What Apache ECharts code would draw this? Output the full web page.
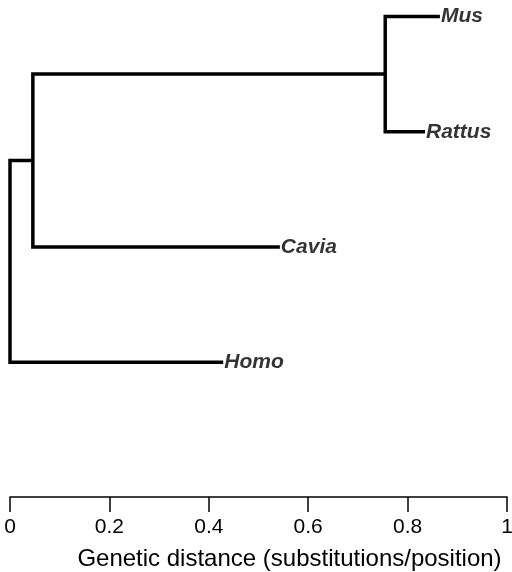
<!DOCTYPE html>
<html>
<head>
<meta charset="utf-8">
<script src="https://cdn.jsdelivr.net/npm/echarts@6/dist/echarts.min.js"></script>
<style>
  html, body { margin: 0; padding: 0; background: #fff; }
  #chart { width: 512px; height: 572px; }
</style>
</head>
<body>
<div id="chart"></div>
<script>
// tree nodes: index, parent index, distance from root
const nodeNames = ['root', 'inner', 'rodent', 'Mus', 'Rattus', 'Cavia', 'Homo']
const nodeParent = [-1, 0, 1, 2, 2, 1, 0]
const nodeDist = [0, 0.046, 0.755, 0.865, 0.835, 0.543, 0.429]
// leaves from top to bottom
const leafOrder = ['Mus', 'Rattus', 'Cavia', 'Homo']

const childrenOf = (i) => nodeParent.map((p, k) => p === i ? k : -1).filter(k => k >= 0)

// row of each node: leaves by order, internal nodes = mean of children
const rows = nodeNames.map(() => null)
leafOrder.forEach((name, i) => { rows[nodeNames.indexOf(name)] = i + 1 })
const rowOf = (i) => {
  if (rows[i] !== null) return rows[i]
  const kids = childrenOf(i)
  rows[i] = kids.reduce((s, k) => s + rowOf(k), 0) / kids.length
  return rows[i]
}
nodeNames.forEach((_, i) => rowOf(i))

// one bracket per internal node: top child tip -> node -> bottom child tip
const branches = []
nodeNames.forEach((_, i) => {
  const kids = childrenOf(i)
  if (!kids.length) return
  kids.sort((a, b) => rows[a] - rows[b])
  const top = kids[0], bot = kids[kids.length - 1]
  branches.push({
    coords: [
      [nodeDist[top], rows[top]],
      [nodeDist[i], rows[top]],
      [nodeDist[i], rows[bot]],
      [nodeDist[bot], rows[bot]]
    ]
  })
})

const leafPoints = leafOrder.map(name => {
  const i = nodeNames.indexOf(name)
  return { value: [nodeDist[i], rows[i]], name }
})

const chart = echarts.init(document.getElementById('chart'))
chart.setOption({
  animation: false,
  textStyle: { fontFamily: 'Liberation Sans, Arial, sans-serif' },
  grid: { left: 10, right: 5, top: 16.5, bottom: 75, outerBoundsMode: 'none' },
  xAxis: {
    type: 'value',
    min: 0,
    max: 1,
    interval: 0.2,
    splitLine: { show: false },
    axisLine: { show: true, lineStyle: { color: '#000', width: 1.5 } },
    axisTick: { show: true, length: 15, lineStyle: { color: '#000', width: 1.5 } },
    axisLabel: { color: '#000', fontSize: 21, margin: 20, showMinLabel: true, showMaxLabel: true },
    name: 'Genetic distance (substitutions/position)',
    nameLocation: 'middle',
    nameGap: 50,
    nameTextStyle: { color: '#000', fontSize: 24, padding: [0, 0, 0, 62] }
  },
  yAxis: {
    type: 'value',
    inverse: true,
    min: 1,
    max: 5.17,
    show: false
  },
  series: [
    {
      type: 'lines',
      coordinateSystem: 'cartesian2d',
      polyline: true,
      clip: false,
      data: branches,
      lineStyle: { color: '#000', width: 3.5, opacity: 1, join: 'miter', cap: 'butt' }
    },
    {
      type: 'scatter',
      symbolSize: 0,
      clip: false,
      data: leafPoints,
      label: {
        show: true,
        position: 'right',
        distance: 1,
        formatter: '{b}',
        color: '#000',
        fontSize: 21,
        fontStyle: 'italic',
        fontWeight: 'bold'
      }
    }
  ]
})
</script>
</body>
</html>
